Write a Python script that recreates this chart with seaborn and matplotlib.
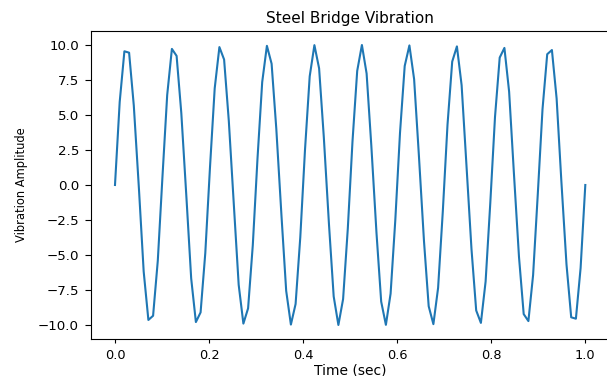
import matplotlib
matplotlib.use("Agg")
import matplotlib.pyplot as plt
import seaborn as sns

# sample times (sec)
time_sec = [
    0.000, 0.010, 0.020, 0.030, 0.040, 0.051, 0.061, 0.071, 0.081, 0.091,
    0.101, 0.111, 0.121, 0.131, 0.141, 0.152, 0.162, 0.172, 0.182, 0.192,
    0.202, 0.212, 0.222, 0.232, 0.242, 0.253, 0.263, 0.273, 0.283, 0.293,
    0.303, 0.313, 0.323, 0.333, 0.343, 0.354, 0.364, 0.374, 0.384, 0.394,
    0.404, 0.414, 0.424, 0.434, 0.444, 0.455, 0.465, 0.475, 0.485, 0.495,
    0.505, 0.515, 0.525, 0.535, 0.545, 0.556, 0.566, 0.576, 0.586, 0.596,
    0.606, 0.616, 0.626, 0.636, 0.646, 0.657, 0.667, 0.677, 0.687, 0.697,
    0.707, 0.717, 0.727, 0.737, 0.747, 0.758, 0.768, 0.778, 0.788, 0.798,
    0.808, 0.818, 0.828, 0.838, 0.848, 0.859, 0.869, 0.879, 0.889, 0.899,
    0.909, 0.919, 0.929, 0.939, 0.949, 0.960, 0.970, 0.980, 0.990, 1.000,
]

amplitude = [
    0.00, 5.93, 9.55, 9.45, 5.67, -0.32, -6.18, -9.64, -9.34, -5.41,
    0.63, 6.43, 9.72, 9.22, 5.14, -0.95, -6.67, -9.79, -9.10, -4.86,
    1.27, 6.90, 9.85, 8.96, 4.58, -1.58, -7.13, -9.90, -8.81, -4.30,
    1.89, 7.35, 9.94, 8.66, 4.01, -2.20, -7.56, -9.97, -8.50, -3.72,
    2.51, 7.76, 9.99, 8.33, 3.42, -2.82, -7.96, -10.00, -8.15, -3.12,
    3.12, 8.15, 10.00, 7.96, 2.82, -3.42, -8.33, -9.99, -7.76, -2.51,
    3.72, 8.50, 9.97, 7.56, 2.20, -4.01, -8.66, -9.94, -7.35, -1.89,
    4.30, 8.81, 9.90, 7.13, 1.58, -4.58, -8.96, -9.85, -6.90, -1.27,
    4.86, 9.10, 9.79, 6.67, 0.95, -5.14, -9.22, -9.72, -6.43, -0.63,
    5.41, 9.34, 9.64, 6.18, 0.32, -5.67, -9.45, -9.55, -5.93, 0.00,
]

fig = plt.figure(figsize=(6.07, 3.76), dpi=100)
ax = fig.add_axes([0.1507, 0.0984, 0.8523, 0.8192])

sns.lineplot(x=time_sec, y=amplitude, ax=ax, color="#1f77b4", linewidth=1.5)

ax.set_title("Steel Bridge Vibration", fontsize=11)
ax.set_xlabel("Time (sec)", fontsize=10, labelpad=1)
ax.set_ylabel("Vibration Amplitude", fontsize=8.3, labelpad=7)
ax.tick_params(axis="x", labelsize=9.3, length=3, pad=4)
ax.tick_params(axis="y", labelsize=9.6, length=4.5, pad=4.5)

fig.savefig("out.png", dpi=100)
